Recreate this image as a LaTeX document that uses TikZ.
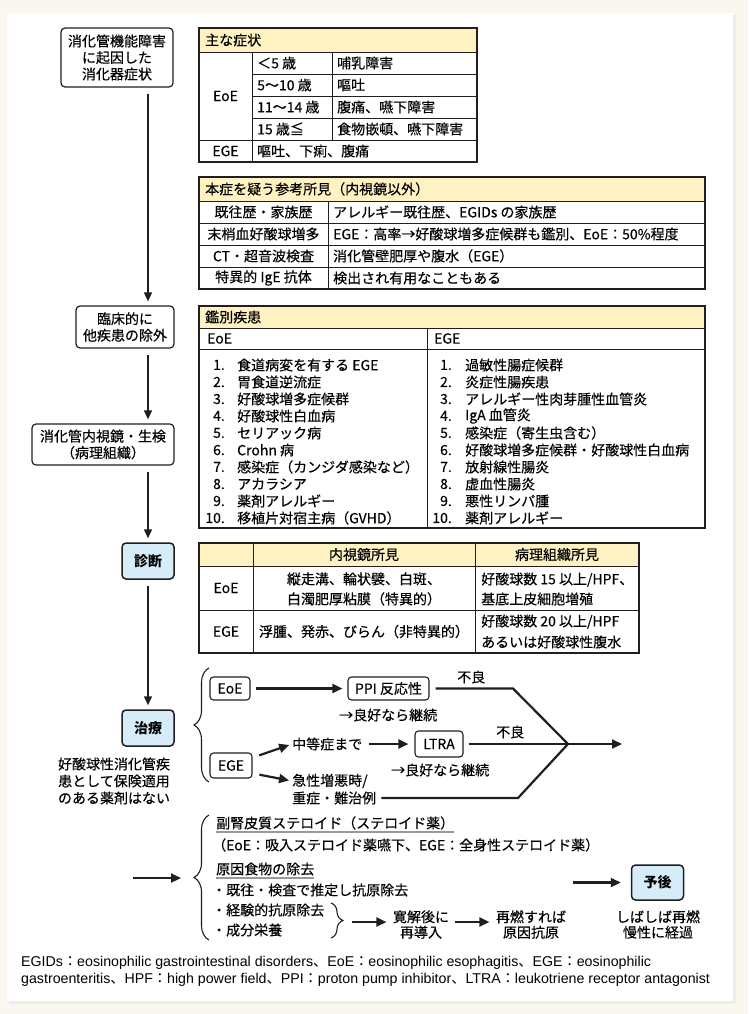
\documentclass[tikz,border=0pt]{standalone}
\usepackage{fontspec}
\setmainfont{Noto Sans CJK JP}[UprightFeatures={FakeBold=0.3}]
\newfontfamily\latinfont{Liberation Sans}
\newfontfamily\jpf{Noto Sans CJK JP}
\newcommand\jc[1]{{\jpf #1}}
\usetikzlibrary{arrows.meta,decorations.pathreplacing}
\definecolor{ink}{RGB}{35,30,30}
\definecolor{paper}{RGB}{250,246,240}
\definecolor{hdrfill}{RGB}{254,241,194}
\definecolor{boxblue}{RGB}{214,236,248}

\begin{document}
\begin{tikzpicture}[x=1pt, y=-1pt,
    font=\fontsize{14}{16.5}\selectfont,
    rbox/.style={draw=ink, line width=1.2pt, rounded corners=4pt, align=center, inner sep=2pt},
    bluebox/.style={rbox, fill=boxblue, line width=1.5pt, minimum width=52pt, minimum height=36pt, font=\fontsize{14}{16.5}\selectfont\bfseries},
    tbox/.style={draw=ink, line width=1.1pt, rounded corners=3.5pt, minimum height=23pt, inner xsep=4pt, inner ysep=1pt},
    spinearrow/.style={draw=ink, line width=1.5pt, -{Triangle[length=9pt,width=8pt]}, shorten <=6pt, shorten >=4pt},
    tline/.style={draw=ink, line width=2.2pt},
    tarrow/.style={tline, -{Triangle[length=10pt,width=9pt]}},
    tabrule/.style={draw=ink, line width=0.8pt},
    tabframe/.style={draw=ink, line width=1.2pt},
    tcell/.style={anchor=west, inner sep=0pt},
    brc/.style={draw=ink, line width=1.1pt, decorate, decoration={brace, amplitude=15pt}},
    uline/.style={draw=black!40, line width=1.6pt}]

  % Page
  \fill[paper] (0,0) rectangle (748,1014);
  \fill[black!7] (9,15) rectangle (736,1004);
  \fill[white] (7,13) rectangle (733,1001);
  \useasboundingbox (0,0) rectangle (748,1014);

  % Left column
  \coordinate (spine) at (148,0);
  \node[rbox, minimum width=112pt, minimum height=59pt] (onset) at (117,57.5) {消化管機能障害\\に起因した\\消化器症状};
  \node[rbox, minimum width=98pt, minimum height=42pt] (excl) at (125,327) {臨床的に\\他疾患の除外};
  \node[rbox, minimum width=142pt, minimum height=41pt] (endo) at (103,444.5) {消化管内視鏡・生検\\（病理組織）};
  \node[bluebox] (diag) at (148,561) {診断};
  \node[bluebox] (treat) at (148,728) {治療};
  \node[align=center, font=\fontsize{14}{17}\selectfont] (nodrug) at (114,781) {好酸球性消化管疾\\患として保険適用\\のある薬剤はない};

  \draw[spinearrow] (onset.south -| spine) -- (excl.north -| spine);
  \draw[spinearrow] (excl.south -| spine) -- (endo.north -| spine);
  \draw[spinearrow] (endo.south -| spine) -- (diag.north);
  \draw[spinearrow] (diag.south) -- (treat.north);

  % Main symptoms
  \fill[hdrfill] (199,28) rectangle (477,52);
  \draw[tabrule] (199,52) -- (477,52) (199,140) -- (477,140) (252,52) -- (252,162) (332,52) -- (332,140);
  \foreach \y in {74,96,118}
    \draw[tabrule] (252,\y) -- (477,\y);
  \draw[tabframe] (199,28) rectangle (477,162);
  \node[tcell] (sym) at (205,40) {主な症状};
  \node (symeoe) at (225.5,96) {EoE};
  \node (symege) at (225.5,151) {EGE};
  \node[tcell] (symege2) at (257,151) {嘔吐、下痢、腹痛};
  \foreach \ag/\sy [count=\i] in {＜5 歳/哺乳障害,5～10 歳/嘔吐,11～14 歳/腹痛、嚥下障害,15 歳≦/食物嵌頓、嚥下障害} {
    \node[tcell] (age\i) at (257,41+22*\i) {\ag};
    \node[tcell] (sy\i) at (337,41+22*\i) {\sy};
  }

  % Reference findings
  \fill[hdrfill] (199,177) rectangle (705,201);
  \draw[tabrule] (199,201) -- (705,201) (328,201) -- (328,289);
  \foreach \y in {223,245,267}
    \draw[tabrule] (199,\y) -- (705,\y);
  \draw[tabframe] (199,177) rectangle (705,289);
  \node[tcell] (refs) at (205,189) {本症を疑う参考所見（内視鏡以外）};
  \foreach \k/\v [count=\i] in {既往歴・家族歴/アレルギー既往歴、EGIDs の家族歴,末梢血好酸球増多/EGE：高率→好酸球増多症候群も鑑別、EoE：50\%程度,CT・超音波検査/消化管壁肥厚や腹水（EGE）,特異的 IgE 抗体/検出され有用なこともある} {
    \node[inner sep=0pt] (rk\i) at (263.5,190+22*\i) {\k};
    \node[tcell] (rv\i) at (333,190+22*\i) {\v};
  }

  % Differential diagnosis
  \fill[hdrfill] (199,306) rectangle (705,328);
  \draw[tabrule] (199,328) -- (705,328) (199,349) -- (705,349) (427,328) -- (427,528);
  \draw[tabframe] (199,306) rectangle (705,528);
  \node[tcell] (ddx) at (205,317) {鑑別疾患};
  \node[tcell] (ddeoe) at (207,338.5) {EoE};
  \node[tcell] (ddege) at (434,338.5) {EGE};
  \foreach \t [count=\i] in {食道病変を有する EGE,胃食道逆流症,好酸球増多症候群,好酸球性白血病,セリアック病,Crohn 病,感染症（カンジダ感染など）,アカラシア,薬剤アレルギー,移植片対宿主病（GVHD）} {
    \node[anchor=east, inner sep=0pt] (en\i) at (225,348+17*\i) {\i.};
    \node[tcell] (et\i) at (237,348+17*\i) {\t};
  }
  \foreach \t [count=\i] in {過敏性腸症候群,炎症性腸疾患,アレルギー性肉芽腫性血管炎,IgA 血管炎,感染症（寄生虫含む）,好酸球増多症候群・好酸球性白血病,放射線性腸炎,虚血性腸炎,悪性リンパ腫,薬剤アレルギー} {
    \node[anchor=east, inner sep=0pt] (gn\i) at (452,348+17*\i) {\i.};
    \node[tcell] (gt\i) at (465,348+17*\i) {\t};
  }

  % Diagnosis table
  \fill[hdrfill] (199,543) rectangle (639,566);
  \draw[tabrule] (199,566) -- (639,566) (199,610) -- (639,610) (253,543) -- (253,653) (475,543) -- (475,653);
  \draw[tabframe] (199,543) rectangle (639,653);
  \node (dxh1) at (364,554.5) {内視鏡所見};
  \node (dxh2) at (557,554.5) {病理組織所見};
  \node (dxeoe) at (226,588) {EoE};
  \node (dxege) at (226,631.5) {EGE};
  \node[align=center, inner sep=0pt, font=\fontsize{14}{20}\selectfont] (dxe1) at (364,589) {縦走溝、輪状襞、白斑、\\白濁肥厚粘膜（特異的）};
  \node[tcell, align=left, font=\fontsize{14}{20}\selectfont] (dxe2) at (481,589) {好酸球数 15 以上/HPF、\\基底上皮細胞増殖};
  \node[inner sep=0pt] (dxg1) at (364,631.5) {浮腫、発赤、びらん（非特異的）};
  \node[tcell, align=left, font=\fontsize{14}{21}\selectfont] (dxg2) at (481,631.5) {好酸球数 20 以上/HPF\\あるいは好酸球性腹水};

  % Treatment
  \draw[brc] (209,782) -- (209,668);
  \node[tbox, minimum width=40pt] (teoe) at (230,688.5) {EoE};
  \node[tbox, minimum width=81pt] (ppi) at (388.5,688.5) {PPI 反応性};
  \node[tcell] (ok1) at (339,715) {→良好なら継続};
  \node[tcell] (bad1) at (457,677) {不良};
  \node[tbox, minimum width=42pt, minimum height=25pt] (tege) at (231,765.5) {EGE};
  \node[tcell] (mod) at (292,744) {中等症まで};
  \node[tbox, minimum width=48pt, minimum height=26pt] (ltra) at (439,744) {LTRA};
  \node[tcell] (ok2) at (391,770) {→良好なら継続};
  \node[tcell] (bad2) at (496,732) {不良};
  \node[tcell] (sev1) at (292,781) {急性増悪時/};
  \node[tcell] (sev2) at (292,798) {重症・難治例};
  \coordinate (b1) at (513,688.5);
  \coordinate (b2) at (518,798);
  \coordinate (jn) at (568,744);
  \coordinate (out) at (622,744);
  \draw[tarrow, shorten <=5pt, shorten >=5pt] (teoe) -- (ppi);
  \draw[tarrow, shorten <=7pt, shorten >=6pt] (mod) -- (ltra);
  \draw[tarrow, shorten <=7pt, shorten >=3pt] (tege.20) -- (mod.west);
  \draw[tarrow, shorten <=7pt, shorten >=3pt] (tege.-20) -- (sev1.west);
  \draw[tline, shorten <=6pt] (ppi.east) -- (b1) -- (jn);
  \draw[tline, shorten <=5pt] (ltra.east) -- (jn);
  \draw[tline, shorten <=5pt] (sev2.east) -- (b2) -- (jn);
  \draw[tarrow] (jn) -- (out);

  % Steroids and elimination diet
  \coordinate (s0) at (133,878);
  \coordinate (s1) at (181,878);
  \draw[tarrow] (s0) -- (s1);
  \draw[brc] (209,940) -- (209,815);
  \node[tcell] (ster) at (216,823) {副腎皮質ステロイド（ステロイド薬）};
  \draw[uline] ([yshift=-2pt]ster.south west) -- ([yshift=-2pt]ster.south east);
  \node[tcell] (stnote) at (212,845) {（EoE：吸入ステロイド薬嚥下、EGE：全身性ステロイド薬）};
  \node[tcell] (food) at (216,869) {原因食物の除去};
  \draw[uline] ([yshift=-2pt]food.south west) -- ([yshift=-2pt]food.south east);
  \node[tcell] (f1) at (212,890) {・既往・検査で推定し抗原除去};
  \node[tcell] (f2) at (212,910) {・経験的抗原除去};
  \node[tcell] (f3) at (212,930) {・成分栄養};
  \draw[brc, decoration={brace, amplitude=12pt}] (331,903) -- (331,938);
  \coordinate (f23) at (343,922);
  \node[align=center, font=\fontsize{14}{15.5}\selectfont] (remis) at (421,924.5) {寛解後に\\再導入};
  \node[align=center, font=\fontsize{14}{15.5}\selectfont] (relap) at (531,924.5) {再燃すれば\\原因抗原};
  \draw[tarrow, shorten <=9pt, shorten >=3pt] (f23) -- (f23 -| remis.west);
  \draw[tarrow, shorten <=2pt, shorten >=3pt] (remis.east |- f23) -- (relap.west |- f23);

  % Prognosis
  \node[bluebox, minimum height=35pt] (prog) at (657.5,882.5) {予後};
  \coordinate (s2) at (573,882.5);
  \draw[tarrow, shorten >=10pt] (s2) -- (prog);
  \node[align=center, font=\fontsize{14}{15.5}\selectfont] (course) at (658,924.5) {しばしば再燃\\慢性に経過};

  % Abbreviations
  \node[tcell, font=\latinfont\fontsize{14.2}{16}\selectfont] (fn1) at (21,963) {EGIDs\jc{：}eosinophilic gastrointestinal disorders\jc{、}EoE\jc{：}eosinophilic esophagitis\jc{、}EGE\jc{：}eosinophilic};
  \node[tcell, font=\latinfont\fontsize{14.2}{16}\selectfont] (fn2) at (21,980) {gastroenteritis\jc{、}HPF\jc{：}high power field\jc{、}PPI\jc{：}proton pump inhibitor\jc{、}LTRA\jc{：}leukotriene receptor antagonist};
\end{tikzpicture}
\end{document}
